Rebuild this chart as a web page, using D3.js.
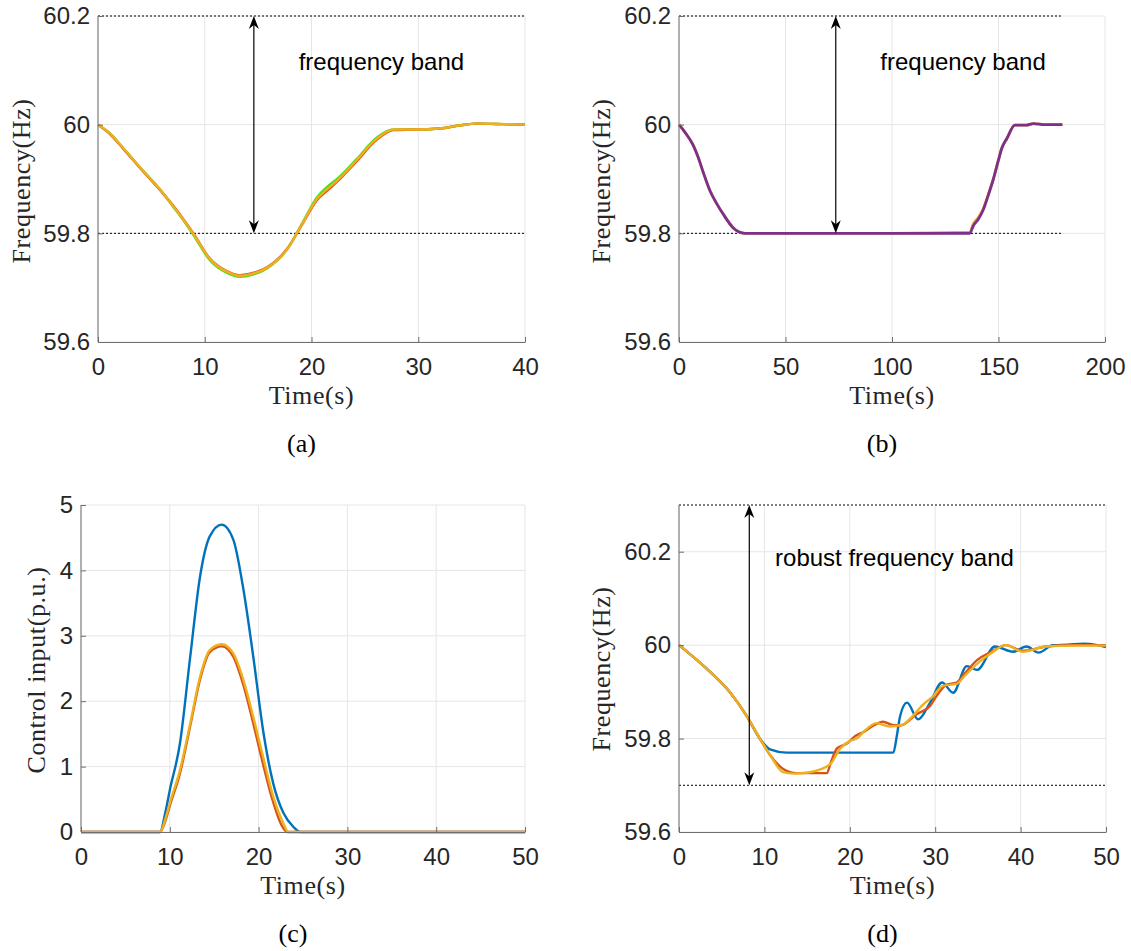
<!DOCTYPE html>
<html>
<head>
<meta charset="utf-8">
<script src="https://cdn.jsdelivr.net/npm/d3@7"></script>
<style>
  html, body { margin: 0; padding: 0; background: #fff; }
  svg { display: block; }
  .tick text { font-family: "Liberation Sans", Arial, sans-serif; font-size: 24px; fill: #262626; }
  .lbl { font-family: "Liberation Serif", "Times New Roman", serif; font-size: 26px; fill: #262626; letter-spacing: 0.6px; }
  .cap { font-family: "Liberation Serif", "Times New Roman", serif; font-size: 26px; fill: #000; }
  .note { font-family: "Liberation Sans", Arial, sans-serif; font-size: 24px; fill: #000; }
</style>
</head>
<body>
<svg id="fig" width="1131" height="951"></svg>
<script>
// ---- (a) frequency response, three controllers ----
const tA = [0, 1, 2.4, 4, 5.8, 7, 8, 9, 10.5, 12, 13.3, 14.5, 15.8, 17.7, 19.2, 20.5, 21.5, 22.4, 24.2, 26.1, 27.7, 29.8, 32, 34, 35.5, 38, 40];
const fA_green  = [60.000, 59.986, 59.956, 59.920, 59.881, 59.850, 59.824, 59.795, 59.750, 59.728, 59.720, 59.724, 59.735, 59.770, 59.821, 59.866, 59.886, 59.900, 59.936, 59.976, 59.991, 59.991, 59.993, 59.999, 60.002, 60.001, 60.000];
const fA_red    = [60.000, 59.985, 59.955, 59.919, 59.880, 59.852, 59.826, 59.798, 59.753, 59.731, 59.723, 59.727, 59.737, 59.771, 59.819, 59.861, 59.879, 59.895, 59.932, 59.972, 59.990, 59.991, 59.993, 59.999, 60.002, 60.001, 60.000];
const fA_yellow = [60.000, 59.986, 59.956, 59.920, 59.881, 59.851, 59.825, 59.797, 59.752, 59.730, 59.722, 59.726, 59.736, 59.770, 59.820, 59.863, 59.882, 59.897, 59.934, 59.974, 59.991, 59.991, 59.993, 59.999, 60.002, 60.001, 60.000];

// ---- (b) long-horizon frequency response ----
const tB = [0, 3, 6.7, 9, 11.4, 14.6, 17.5, 20.8, 25.5, 28, 31, 60, 100, 136.5, 138.2, 140.5, 142.9, 145, 147.6, 150, 151.5, 154, 157.7, 159.9, 163, 166.4, 172, 180];
const fB_yellow = [60, 59.985, 59.962, 59.940, 59.912, 59.878, 59.856, 59.835, 59.810, 59.803, 59.800, 59.800, 59.800, 59.802, 59.818, 59.829, 59.846, 59.869, 59.900, 59.935, 59.956, 59.975, 59.999, 59.999, 59.999, 60.002, 60.000, 60.000];
const fB_purple = [60, 59.985, 59.962, 59.940, 59.912, 59.878, 59.856, 59.835, 59.810, 59.803, 59.800, 59.800, 59.800, 59.800, 59.814, 59.826, 59.844, 59.868, 59.900, 59.935, 59.956, 59.975, 59.999, 59.999, 59.999, 60.002, 60.000, 60.000];

// ---- (c) control input ----
const tC_blue = [0, 8.9, 9.5, 10, 11.15, 12.3, 13.4, 14.5, 15.85, 17.15, 18.3, 19.4, 20.5, 21.65, 22.8, 23.9, 24.7, 50];
const uC_blue = [0, 0, 0.30, 0.64, 1.36, 2.68, 3.90, 4.52, 4.70, 4.47, 3.70, 2.68, 1.56, 0.74, 0.29, 0.08, 0, 0];
const tC_red = [0, 8.9, 9.5, 10, 11.15, 12.3, 13.4, 14.5, 15.85, 17.15, 18.3, 19.4, 20.5, 21.5, 22.6, 23.2, 50];
const uC_red = [0, 0, 0.17, 0.40, 0.90, 1.62, 2.33, 2.75, 2.84, 2.68, 2.24, 1.66, 1.04, 0.52, 0.10, 0, 0];
const tC_yellow = [0, 8.9, 9.5, 10, 11.15, 12.3, 13.4, 14.5, 15.85, 17.15, 18.3, 19.4, 20.5, 21.65, 22.8, 23.35, 50];
const uC_yellow = [0, 0, 0.20, 0.44, 0.95, 1.66, 2.37, 2.78, 2.87, 2.73, 2.32, 1.76, 1.15, 0.54, 0.13, 0, 0];

// ---- (d) robust frequency response ----
const tD_blue = [0, 2.85, 5.97, 7.9, 9.5, 10.66, 12.6, 18, 25.1, 25.5, 25.9, 26.7, 28.0, 29.4, 30.8, 32.1, 33.7, 34.9, 37.0, 39.1, 40.7, 42.1, 43.8, 45.5, 47.3, 49, 50];
const fD_blue = [60, 59.956, 59.899, 59.849, 59.799, 59.777, 59.770, 59.770, 59.770, 59.805, 59.849, 59.877, 59.841, 59.877, 59.920, 59.898, 59.955, 59.947, 59.997, 59.986, 59.997, 59.984, 60.000, 60.001, 60.003, 60.000, 59.996];
const tD_red = [0, 2.85, 5.97, 7.9, 9.5, 10.66, 12.2, 13.8, 17.3, 17.8, 18.5, 19.7, 20.6, 21.6, 22.8, 23.9, 25.0, 25.9, 27.8, 29.4, 30.3, 31.3, 32.5, 33.5, 34.9, 36.5, 38.3, 40.2, 43, 46, 50];
const fD_red = [60, 59.956, 59.899, 59.849, 59.799, 59.765, 59.735, 59.726, 59.726, 59.750, 59.779, 59.790, 59.805, 59.814, 59.828, 59.836, 59.829, 59.828, 59.852, 59.870, 59.895, 59.915, 59.920, 59.940, 59.968, 59.985, 60.000, 59.988, 59.997, 60.000, 60.000];
const tD_yellow = [0, 2.85, 5.97, 7.9, 9.5, 10.66, 12.2, 13.4, 15.3, 17.7, 18.9, 20.0, 20.8, 21.6, 23.1, 24.7, 26.2, 27.2, 28.6, 29.7, 30.9, 32.5, 33.5, 34.9, 36.5, 38.3, 40.2, 43.0, 46, 50];
const fD_yellow = [60, 59.956, 59.899, 59.849, 59.799, 59.765, 59.728, 59.725, 59.728, 59.745, 59.779, 59.795, 59.800, 59.814, 59.833, 59.826, 59.830, 59.845, 59.873, 59.890, 59.913, 59.917, 59.935, 59.960, 59.982, 60.000, 59.986, 59.997, 59.999, 59.999];

// tick values
const freqTicks = [59.6, 59.8, 60, 60.2];
const timeTicks40 = [0, 10, 20, 30, 40];
const timeTicks200 = [0, 50, 100, 150, 200];
const timeTicks50 = [0, 10, 20, 30, 40, 50];
const inputTicks = [0, 1, 2, 3, 4, 5];

const C = { blue: "#0072BD", red: "#D95319", yellow: "#EDB120", purple: "#7E2F8E", green: "#3fe21f" };

const svg = d3.select("#fig");
const fmt = d => String(+(+d).toFixed(1));

function arrowHead(g, x, y, dir) {
  // notched arrowhead; dir = -1 points up, +1 points down
  const L = 13, W = 5, N = 4;
  const p = [[x, y], [x - W, y - dir * L], [x, y - dir * (L - N)], [x + W, y - dir * L]];
  g.append("path").attr("d", "M" + p.map(q => q.join(",")).join("L") + "Z").attr("fill", "#000");
}

function panel(cfg) {
  const { left, right, top, bottom } = cfg.box;
  const x = d3.scaleLinear().domain(cfg.xDomain).range([left, right]);
  const y = d3.scaleLinear().domain(cfg.yDomain).range([bottom, top]);
  const g = svg.append("g");

  // grid
  const grid = g.append("g").attr("stroke", "#e6e6e6").attr("stroke-width", 1);
  cfg.xTicks.forEach(v => grid.append("line").attr("x1", x(v)).attr("x2", x(v)).attr("y1", y(cfg.gridTop)).attr("y2", bottom));
  cfg.yTicks.forEach(v => grid.append("line").attr("x1", left).attr("x2", x(cfg.xDomain[1])).attr("y1", y(v)).attr("y2", y(v)));

  // dotted band limits
  (cfg.bands || []).forEach(b => {
    g.append("line").attr("x1", x(b.from)).attr("x2", x(b.to)).attr("y1", y(b.value)).attr("y2", y(b.value))
      .attr("stroke", "#000").attr("stroke-width", 1).attr("stroke-dasharray", "2,2");
  });

  // data
  const line = d3.line().x(d => x(d[0])).y(d => y(d[1])).curve(d3.curveMonotoneX);
  cfg.series.forEach(s => {
    g.append("path").datum(d3.zip(s.t, s.v)).attr("d", line)
      .attr("fill", "none").attr("stroke", s.color).attr("stroke-width", cfg.lineWidth || 2.4).attr("stroke-linejoin", "round");
  });

  // axes
  const ax = g.append("g").attr("transform", `translate(0,${bottom})`)
    .call(d3.axisBottom(x).tickValues(cfg.xTicks).tickSizeInner(-5).tickSizeOuter(0).tickPadding(10).tickFormat(fmt));
  const ay = g.append("g").attr("transform", `translate(${left},0)`)
    .call(d3.axisLeft(y).tickValues(cfg.yTicks).tickSizeInner(-5).tickSizeOuter(0).tickPadding(8).tickFormat(fmt));
  [ax, ay].forEach(a => {
    a.select(".domain").attr("stroke", "#6e6e6e");
    a.selectAll(".tick line").attr("stroke", "#6e6e6e");
    a.selectAll(".tick text").attr("font-size", null).attr("font-family", null).attr("fill", null);
  });
  ay.select(".domain").attr("d", `M0,${y(cfg.yDomain[1])}V${bottom}`);
  ax.selectAll(".tick text").attr("dy", null).attr("y", 33).attr("dominant-baseline", "auto");

  // arrow
  if (cfg.arrow) {
    const a = cfg.arrow, ax0 = x(a.t), y1 = y(a.from), y2 = y(a.to);
    g.append("line").attr("x1", ax0).attr("x2", ax0).attr("y1", y1 + 4).attr("y2", y2 - 4)
      .attr("stroke", "#000").attr("stroke-width", 1.2);
    arrowHead(g, ax0, y1, -1);
    arrowHead(g, ax0, y2, 1);
  }
  if (cfg.note) {
    g.append("text").attr("class", "note").attr("x", x(cfg.note.t)).attr("y", y(cfg.note.v)).text(cfg.note.text);
  }

  // labels
  g.append("text").attr("class", "lbl").attr("x", (left + right) / 2).attr("y", bottom + 62)
    .attr("text-anchor", "middle").text("Time(s)");
  g.append("text").attr("class", "lbl").attr("transform", `translate(${cfg.yLabelX},${cfg.yLabelY}) rotate(-90)`)
    .attr("text-anchor", "middle").text(cfg.yLabel);
  g.append("text").attr("class", "cap").attr("x", (left + right) / 2 - 10).attr("y", bottom + 110)
    .attr("text-anchor", "middle").text(cfg.caption);
}

panel({
  box: { left: 98, right: 525, top: 16, bottom: 342 },
  xDomain: [0, 40], yDomain: [59.6, 60.2], xTicks: timeTicks40, yTicks: freqTicks, gridTop: 60.2,
  bands: [{ value: 60.2, from: 0, to: 40 }, { value: 59.8, from: 0, to: 40 }],
  series: [
    { t: tA, v: fA_green, color: C.green },
    { t: tA, v: fA_red, color: C.red },
    { t: tA, v: fA_yellow, color: C.yellow }
  ],
  arrow: { t: 14.6, from: 60.2, to: 59.8 },
  note: { t: 18.8, v: 60.1, text: "frequency band" },
  yLabel: "Frequency(Hz)", yLabelX: 30, yLabelY: 181, caption: "(a)"
});

panel({
  box: { left: 679, right: 1105, top: 16, bottom: 342 },
  xDomain: [0, 200], yDomain: [59.6, 60.2], xTicks: timeTicks200, yTicks: freqTicks, gridTop: 60.2,
  bands: [{ value: 60.2, from: 0, to: 180 }, { value: 59.8, from: 0, to: 180 }],
  series: [
    { t: tB, v: fB_yellow, color: C.yellow },
    { t: tB, v: fB_purple, color: C.purple }
  ],
  lineWidth: 2.8,
  arrow: { t: 73.6, from: 60.2, to: 59.8 },
  note: { t: 94.5, v: 60.1, text: "frequency band" },
  yLabel: "Frequency(Hz)", yLabelX: 610, yLabelY: 181, caption: "(b)"
});

panel({
  box: { left: 81, right: 525, top: 505, bottom: 832 },
  xDomain: [0, 50], yDomain: [0, 5], xTicks: timeTicks50, yTicks: inputTicks, gridTop: 5,
  series: [
    { t: tC_blue, v: uC_blue, color: C.blue },
    { t: tC_red, v: uC_red, color: C.red },
    { t: tC_yellow, v: uC_yellow, color: C.yellow }
  ],
  yLabel: "Control input(p.u.)", yLabelX: 45, yLabelY: 670, caption: "(c)"
});

panel({
  box: { left: 679, right: 1106, top: 505, bottom: 832 },
  xDomain: [0, 50], yDomain: [59.6, 60.3], xTicks: timeTicks50, yTicks: freqTicks, gridTop: 60.3,
  bands: [{ value: 60.3, from: 0, to: 50 }, { value: 59.7, from: 0, to: 50 }],
  series: [
    { t: tD_blue, v: fD_blue, color: C.blue },
    { t: tD_red, v: fD_red, color: C.red },
    { t: tD_yellow, v: fD_yellow, color: C.yellow }
  ],
  arrow: { t: 8.23, from: 60.3, to: 59.7 },
  note: { t: 11.25, v: 60.17, text: "robust frequency band" },
  yLabel: "Frequency(Hz)", yLabelX: 610, yLabelY: 669, caption: "(d)"
});
</script>
</body>
</html>
